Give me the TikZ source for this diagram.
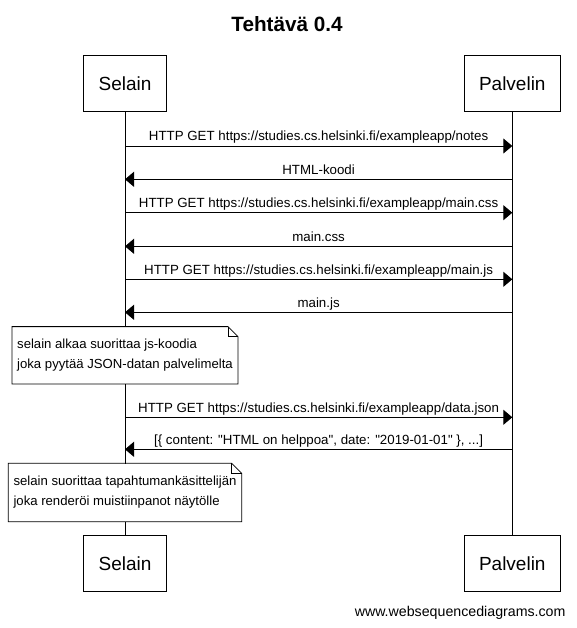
\documentclass[tikz,border=0pt]{standalone}
\usepackage{fontspec}
\setmainfont{Liberation Sans}[Ligatures=TeXOff]
\usetikzlibrary{arrows.meta}
\begin{document}
\begin{tikzpicture}[x=1pt,y=-1pt,
  actor/.style={draw,line width=0.9pt,fill=white,minimum height=56pt,inner xsep=15pt,font=\fontsize{19}{23}\selectfont},
  msg/.style={line width=0.9pt,-{Triangle[length=9pt,width=15pt]}},
  lbl/.style={font=\fontsize{13.3}{16}\selectfont,anchor=base,inner sep=0pt},
  note/.style={fill=white,align=left,inner xsep=5pt,inner ysep=0pt,minimum height=57pt,font=\fontsize{13.15}{20}\selectfont},
  noteline/.style={line width=0.8pt},
  life/.style={line width=0.9pt}]
\useasboundingbox (0,0) rectangle (576,628);
% title
\node[anchor=base,inner sep=0pt,font=\fontsize{20.7}{24}\selectfont\bfseries] (title) at (287,31.5) {Tehtävä 0.4};
% actors
\node[actor] (s1) at (125,83.7) {Selain};
\node[actor] (p1) at (512.3,83.7) {Palvelin};
\node[actor] (s2) at (125,563.7) {Selain};
\node[actor] (p2) at (512.3,563.7) {Palvelin};
\draw[life] (s1.south) -- (s2.north);
\draw[life] (p1.south) -- (p2.north);
% message coordinates
\foreach \i/\y in {1/146,2/179.3,3/212.7,4/246.3,5/279.3,6/312.3,7/417.3,8/449.3}{
  \coordinate (a\i) at (125,\y);
  \coordinate (b\i) at (512.3,\y);
}
\draw[msg] (a1) -- (b1);
\node[lbl] (l1) at (318.6,140.8) {HTTP GET https://studies.cs.helsinki.fi/exampleapp/notes};
\draw[msg] (b2) -- (a2);
\node[lbl] (l2) at (318.6,174.1) {HTML-koodi};
\draw[msg] (a3) -- (b3);
\node[lbl] (l3) at (318.6,207.5) {HTTP GET https://studies.cs.helsinki.fi/exampleapp/main.css};
\draw[msg] (b4) -- (a4);
\node[lbl] (l4) at (318.6,241.1) {main.css};
\draw[msg] (a5) -- (b5);
\node[lbl] (l5) at (318.6,274.1) {HTTP GET https://studies.cs.helsinki.fi/exampleapp/main.js};
\draw[msg] (b6) -- (a6);
\node[lbl] (l6) at (318.6,307.1) {main.js};
% note 1
\node[note] (n1) at (125,355.3) {selain alkaa suorittaa js-koodia\\joka pyytää JSON-datan palvelimelta};
\draw[noteline] (n1.north west) -- ([xshift=-10pt]n1.north east) -- ([yshift=-10pt]n1.north east) -- (n1.south east) -- (n1.south west) -- cycle;
\draw[noteline] ([xshift=-10pt]n1.north east) -- ([xshift=-10pt,yshift=-10pt]n1.north east) -- ([yshift=-10pt]n1.north east);
\draw[msg] (a7) -- (b7);
\node[lbl] (l7) at (318.6,412.1) {HTTP GET https://studies.cs.helsinki.fi/exampleapp/data.json};
\draw[msg] (b8) -- (a8);
\node[lbl] (l8) at (318.6,444.1) {[\{ content: "HTML on helppoa", date: "2019-01-01" \}, ...]};
% note 2
\node[note,minimum height=58pt] (n2) at (125,492.5) {selain suorittaa tapahtumankäsittelijän\\joka renderöi muistiinpanot näytölle};
\draw[noteline] (n2.north west) -- ([xshift=-10pt]n2.north east) -- ([yshift=-10pt]n2.north east) -- (n2.south east) -- (n2.south west) -- cycle;
\draw[noteline] ([xshift=-10pt]n2.north east) -- ([xshift=-10pt,yshift=-10pt]n2.north east) -- ([yshift=-10pt]n2.north east);
% footer
\node[anchor=base east,inner sep=0pt,font=\fontsize{14.2}{17}\selectfont] (foot) at (565.7,616.5) {www.websequencediagrams.com};
\end{tikzpicture}
\end{document}
